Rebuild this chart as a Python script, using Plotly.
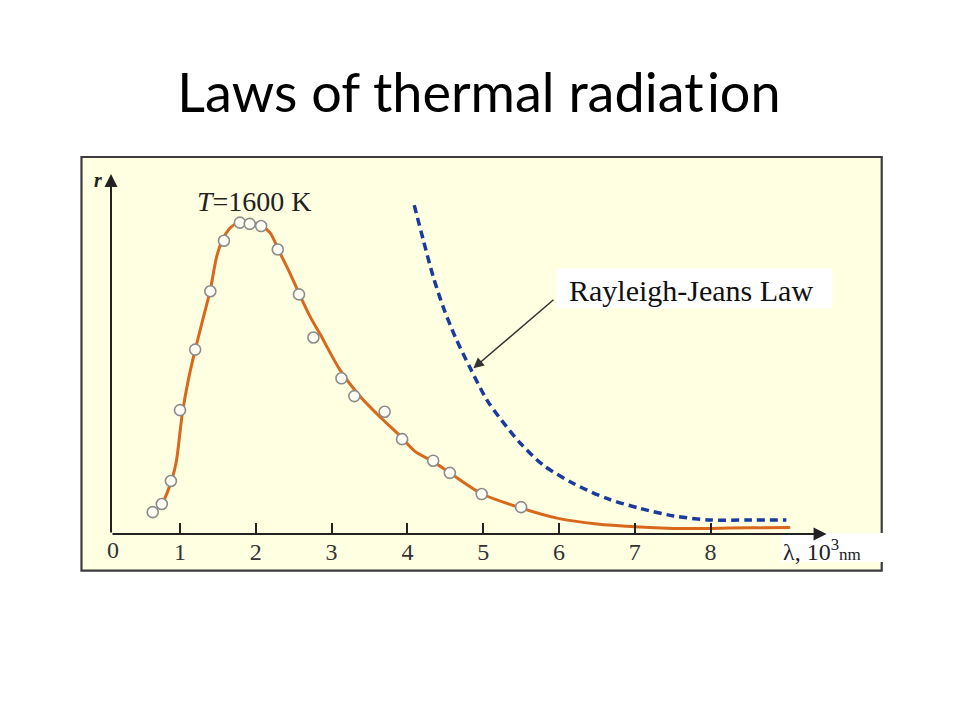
import plotly.graph_objects as go

# ---------------- data ----------------
# measured points (open circles), lambda in 10^3 nm, r in arbitrary units (peak ~100)
pts_x = [0.64, 0.76, 0.88, 1.00, 1.20, 1.40, 1.58, 1.79, 1.92, 2.07, 2.29,
         2.57, 2.76, 3.13, 3.30, 3.70, 3.93, 4.34, 4.56, 4.98, 5.50]
pts_r = [7.0, 9.6, 17.0, 39.7, 59.1, 77.8, 94.0, 99.8, 99.4, 98.7, 91.2,
         76.8, 63.0, 49.9, 44.2, 39.2, 30.4, 23.5, 19.6, 12.8, 8.6]

# Planck curve at T = 1600 K (orange line)
planck_x = [0.71, 0.78, 0.89, 0.95, 1.03, 1.11, 1.20, 1.31, 1.40, 1.48, 1.55,
            1.66, 1.77, 1.92, 2.08, 2.19, 2.30, 2.45, 2.58, 2.72, 2.85, 3.11,
            3.38, 3.64, 3.90, 4.10, 4.34, 4.56, 4.98, 5.49, 5.99, 6.50, 7.00,
            7.51, 8.00, 8.48, 9.05]
planck_r = [8.3, 10.5, 17.3, 23.0, 38.5, 49.4, 59.0, 69.6, 78.2, 88.5, 93.7,
            98.1, 99.8, 99.8, 98.7, 96.5, 91.0, 83.6, 76.6, 69.5, 64.0, 52.6,
            44.0, 37.5, 31.5, 26.5, 23.2, 19.6, 12.9, 8.4, 5.0, 3.2, 2.3,
            1.8, 1.8, 2.0, 2.1]

# Rayleigh-Jeans law (blue dashed line)
rj_x = [4.09, 4.21, 4.34, 4.47, 4.63, 4.83, 5.05, 5.24, 5.49, 5.79, 6.19,
        6.63, 7.07, 7.51, 7.99, 8.48, 9.00]
rj_r = [105.4, 94.2, 82.5, 72.9, 63.2, 53.1, 42.9, 36.5, 29.1, 22.1, 16.2,
        11.4, 8.2, 5.8, 4.5, 4.5, 4.5]

tick_vals = [1, 2, 3, 4, 5, 6, 7, 8]
tick_text = ["1", "2", "3", "4", "5", "6", "7", "8"]

# a hair space keeps "t" and "i" apart (no ligature)
title_text = "Laws of thermal radiat\u200aion"
temp_label = "<i>T</i>=1600 K"
rj_label = "Rayleigh-Jeans Law"
x_label = "λ, 10<sup>3</sup><span style='font-size:17px'>nm</span>"
y_label = "<i><b>r</b></i>"

# ---------------- layout geometry ----------------
X_MIN, X_MAX = 0.0897, 9.971
Y_MIN, Y_MAX = 0.0, 116.67
AXIS_X = X_MIN
X_TIP = 9.53
Y_TIP = 115.4

SERIF = "Liberation Serif, Times New Roman, serif"
INK = "#222222"

fig = go.Figure()

fig.add_trace(go.Scatter(
    x=planck_x, y=planck_r, mode="lines",
    line=dict(color="#D9671C", width=3, shape="spline", smoothing=0.8),
    hoverinfo="skip", showlegend=False))

fig.add_trace(go.Scatter(
    x=rj_x, y=rj_r, mode="lines",
    line=dict(color="#1B3A9E", width=3.5, dash="8px,5px", shape="spline", smoothing=0.8),
    hoverinfo="skip", showlegend=False))

fig.add_trace(go.Scatter(
    x=pts_x, y=pts_r, mode="markers",
    marker=dict(size=11, color="#FFFFF4", line=dict(color="#8C8C8C", width=1.6)),
    hoverinfo="skip", showlegend=False))

# panel background + border (paper coords relative to plot area)
fig.add_shape(type="rect", xref="paper", yref="paper",
              x0=-0.0394, x1=1.029, y0=-0.1008, y1=1.0357,
              fillcolor="#FFFFE1", line=dict(color="#3C3C3C", width=2.2),
              layer="below")
# white label boxes
fig.add_shape(type="rect", xref="x", yref="y",
              x0=5.97, x1=9.60, y0=72.3, y1=85.2,
              fillcolor="white", line=dict(width=0), layer="below")
fig.add_shape(type="rect", xref="paper", yref="paper",
              x0=0.895, x1=1.035, y0=-0.077, y1=0.0027,
              fillcolor="white", line=dict(width=0), layer="below")

ann = []
# axes drawn as arrows
ann.append(dict(x=X_TIP, y=0, ax=AXIS_X, ay=0, xref="x", yref="y", axref="x", ayref="y",
                text="", showarrow=True, arrowhead=2, arrowsize=1.3, arrowwidth=2,
                arrowcolor=INK))
ann.append(dict(x=AXIS_X, y=Y_TIP, ax=AXIS_X, ay=0, xref="x", yref="y", axref="x", ayref="y",
                text="", showarrow=True, arrowhead=2, arrowsize=1.3, arrowwidth=2,
                arrowcolor=INK))
# pointer arrow to Rayleigh-Jeans curve
ann.append(dict(x=4.87, y=53.1, ax=5.947, ay=75.5, xref="x", yref="y", axref="x", ayref="y",
                text="", showarrow=True, arrowhead=2, arrowsize=1.4, arrowwidth=1.5,
                arrowcolor="#333333"))
ann.append(dict(x=6.10, y=78.2, xref="x", yref="y", text=rj_label, showarrow=False,
                xanchor="left", yanchor="middle",
                font=dict(family=SERIF, size=30, color="#111111")))
ann.append(dict(x=1.989, y=106.5, xref="x", yref="y", text=temp_label, showarrow=False,
                xanchor="center", yanchor="middle",
                font=dict(family=SERIF, size=28, color="#222222")))
ann.append(dict(x=0.12, y=0, xref="x", yref="y", text="0", showarrow=False,
                xanchor="center", yanchor="middle", yshift=-16,
                font=dict(family=SERIF, size=24, color="#333333")))
ann.append(dict(x=8.93, y=0, xref="x", yref="y", text=x_label, showarrow=False,
                xanchor="left", yanchor="middle", yshift=-16,
                font=dict(family=SERIF, size=24, color="#222222")))
ann.append(dict(x=-0.009, y=Y_TIP - 2, xref="paper", yref="y", text=y_label, showarrow=False,
                xanchor="right", yanchor="middle",
                font=dict(family=SERIF, size=20, color="#222222")))

fig.update_layout(
    width=960, height=720,
    margin=dict(l=103, r=108, t=162, b=194),
    paper_bgcolor="white", plot_bgcolor="rgba(0,0,0,0)",
    title=dict(text=title_text, x=0.4906, xanchor="center", y=0.882, yanchor="middle",
               xref="container", yref="container",
               font=dict(family="Lato, Carlito, Calibri, sans-serif", size=54, color="black")),
    annotations=ann,
    showlegend=False,
)
fig.update_xaxes(range=[X_MIN, X_MAX], tickvals=tick_vals, ticktext=tick_text,
                 ticks="inside", ticklen=11, tickwidth=1.6, tickcolor=INK,
                 showgrid=False, zeroline=False, showline=False,
                 ticklabelstandoff=1,
                 tickfont=dict(family=SERIF, size=24, color="#333333"))
fig.update_yaxes(range=[Y_MIN, Y_MAX], showticklabels=False, ticks="",
                 showgrid=False, zeroline=False, showline=False)

fig.write_html("out.html")
